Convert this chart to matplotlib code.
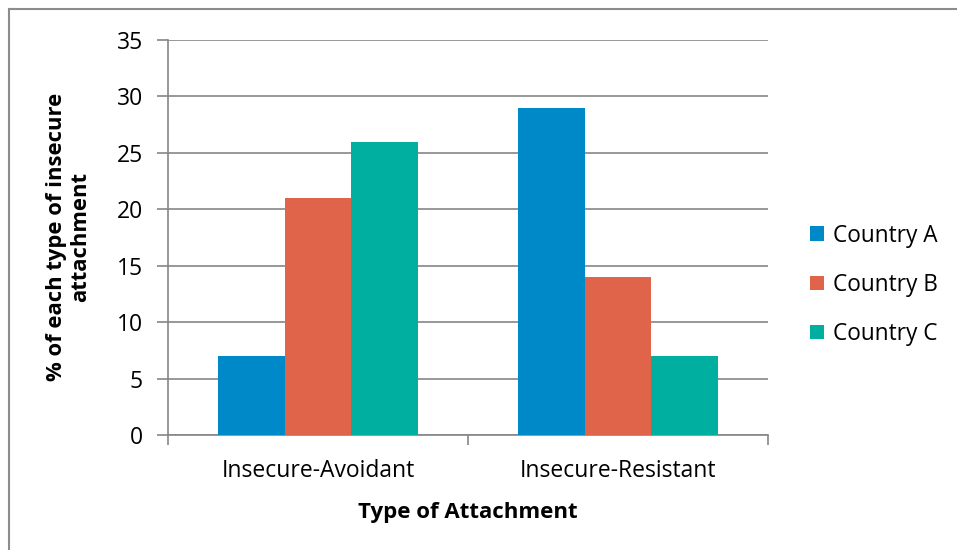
import matplotlib.pyplot as plt
import numpy as np
from matplotlib.lines import Line2D

plt.rcParams['font.family'] = ['Open Sans', 'DejaVu Sans']

# Data
categories = ['Insecure-Avoidant', 'Insecure-Resistant']
countries = ['Country A', 'Country B', 'Country C']
values = {
    'Country A': [7, 29],
    'Country B': [21, 14],
    'Country C': [26, 7],
}
colors = ['#0089C8', '#E0644A', '#00AFA0']

fig = plt.figure(figsize=(9.57, 5.5), dpi=100)
ax = fig.add_axes([168 / 957, 115 / 550, 600 / 957, 395 / 550])

x = np.arange(len(categories))
width = 2 / 9
for i, (name, col) in enumerate(zip(countries, colors)):
    ax.bar(x + (i - 1) * width, values[name], width, color=col, label=name, zorder=3)

grid_col = '#868686'
ax.set_ylim(0, 35)
ax.set_xlim(-0.5, 1.5)
ax.set_yticks(range(0, 36, 5))
ax.yaxis.grid(True, color=grid_col, linewidth=1.2, zorder=0)
ax.set_axisbelow(True)

# category boundary ticks, labels sit between them
ax.set_xticks([-0.5, 0.5, 1.5])
ax.set_xticklabels([])
ax.set_xticks(x, minor=True)
ax.set_xticklabels(categories, minor=True)
ax.tick_params(axis='x', which='minor', length=0, pad=17, labelsize=16.5)
ax.tick_params(axis='x', which='major', length=7, color=grid_col, width=1.2)
ax.tick_params(axis='y', length=8, color=grid_col, width=1.2, pad=10, labelsize=16.5)

for side in ['top', 'right']:
    ax.spines[side].set_visible(False)
for side in ['left', 'bottom']:
    ax.spines[side].set_color(grid_col)
    ax.spines[side].set_linewidth(1.2)

ax.set_xlabel('Type of Attachment', fontsize=16, fontweight='bold', labelpad=14)
fig.text(69 / 957, 1 - 237 / 550, '% of each type of insecure\nattachment',
         rotation=90, ha='center', va='center', fontsize=15.8, fontweight='bold',
         linespacing=1.2)

ax.legend(loc='center left', bbox_to_anchor=(1.036, 0.38), frameon=False,
          fontsize=16.3, handlelength=0.6, handleheight=0.6, labelspacing=1.12,
          handletextpad=0.4)

# chart area border (top and left edges)
fig.add_artist(Line2D([9 / 957, 1], [1 - 9 / 550, 1 - 9 / 550],
                      transform=fig.transFigure, color='#8c8c8c', linewidth=1.5))
fig.add_artist(Line2D([9 / 957, 9 / 957], [0, 1 - 9 / 550],
                      transform=fig.transFigure, color='#8c8c8c', linewidth=1.5))

fig.savefig('out.png', dpi=100)
